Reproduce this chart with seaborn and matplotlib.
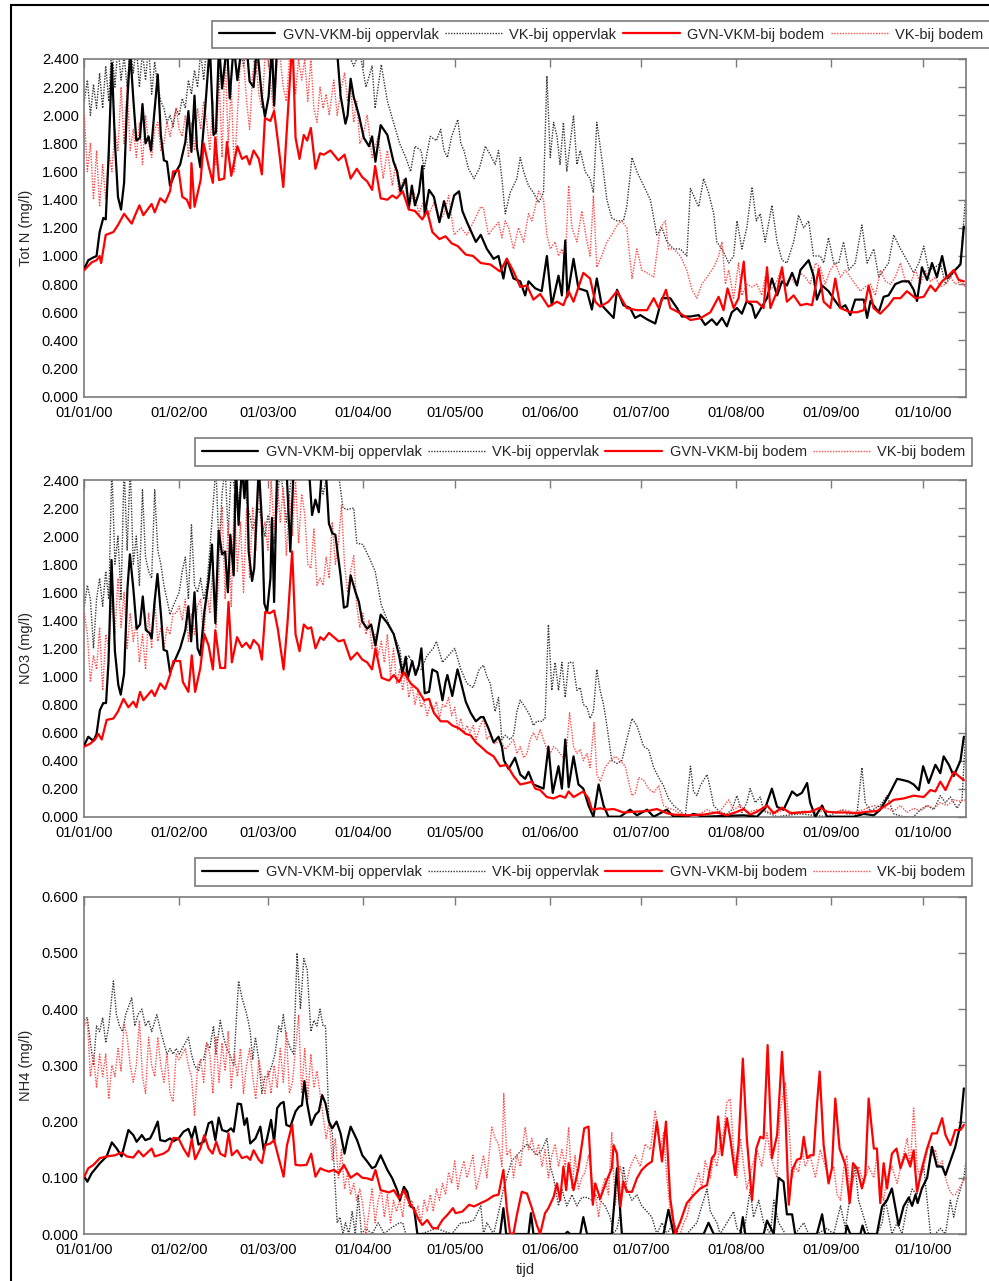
import numpy as np
import pandas as pd
import matplotlib
matplotlib.use("Agg")
import matplotlib.pyplot as plt
import matplotlib.dates as mdates
from matplotlib.ticker import FormatStrFormatter
from matplotlib.patches import Rectangle
import seaborn as sns

sns.set_style("white")
plt.rcParams["font.family"] = ["Liberation Sans", "DejaVu Sans"]
plt.rcParams["font.size"] = 10.5

START = pd.Timestamp("2000-01-01")

# Series: (day since 01/01/2000, concentration in mg/l)

# ---------------- Tot N ----------------
totn_gvn_opp = [(0,0.91),(1.3,0.97),(3,0.99),(4,1.00),(5,1.17),(6.2,1.27),(7,1.26),(7.9,1.69),(9,2.37),(10,1.81),(11,1.42),(12,1.33),(13,1.52),(13.9,2.05),(15,2.45),(16,2.12),(17,1.82),(18.2,1.84),(19,2.08),(20,1.80),(21,1.85),(21.8,1.75),(22.8,2.00),(24,2.29),(25,1.86),(26,1.68),(27,1.67),(28,1.50),(29.7,1.59),(31.3,1.65),(33,1.81),(34,2.03),(35,1.74),(36,2.14),(36.8,1.77),(37.9,1.63),(39.5,2.05),(41,2.50),(42.2,1.86),(43,1.88),(44,2.50),(45,2.19),(46.6,2.50),(47.5,2.12),(48.8,2.50),(50,2.25),(51.5,2.50),(53,2.50),(54,2.24),(55.3,2.20),(56.4,2.50),(58,2.13),(59,1.99),(60.2,2.13),(61.3,2.50),(62,2.07),(63,2.50),(70,2.60),(76,2.60),(82.6,2.45),(83.7,2.14),(85.3,1.94),(86,2.00),(87,2.26),(88,2.13),(89.7,2.00),(91.3,1.84),(93,1.78),(94,1.85),(95.1,1.67),(96.8,1.93),(99,1.86),(101,1.67),(102.2,1.60),(103.3,1.46),(105,1.55),(106,1.34),(107,1.50),(108,1.36),(109.3,1.45),(110.4,1.64),(111.2,1.29),(112.6,1.47),(114.2,1.42),(116,1.24),(117.5,1.39),(119,1.27),(120.8,1.43),(122.4,1.46),(123.5,1.32),(125,1.24),(127.9,1.10),(129.5,1.15),(131.5,1.05),(133.7,0.98),(135.3,1.00),(136.9,0.84),(138,0.98),(140.2,0.84),(142.4,0.82),(144,0.72),(145.1,0.82),(147.3,0.77),(149.4,0.75),(151.1,1.00),(152.7,0.65),(154.9,0.86),(156,0.72),(157.1,1.11),(157.8,0.71),(159.8,0.98),(161.4,0.77),(164.2,0.75),(165.8,0.62),(167.4,0.84),(169,0.65),(172.9,0.56),(174,0.76),(176.1,0.65),(178.3,0.63),(179.9,0.56),(181.6,0.58),(183.8,0.55),(186.5,0.52),(188.7,0.70),(191.4,0.70),(193.6,0.63),(195.2,0.57),(198,0.57),(200.7,0.58),(202.8,0.51),(205,0.55),(206.6,0.51),(208.3,0.56),(209.9,0.50),(211.5,0.60),(213.2,0.63),(214.8,0.59),(216.4,0.68),(218.1,0.65),(219.2,0.56),(220.8,0.62),(223,0.70),(224.6,0.84),(226.3,0.72),(227.9,0.82),(229.5,0.79),(231.2,0.88),(232.8,0.79),(233.9,0.90),(236.6,0.97),(238.2,0.86),(239.3,0.69),(241,0.79),(243.1,0.75),(245.3,0.68),(247,0.63),(248.6,0.65),(250.2,0.58),(251.8,0.69),(254.6,0.69),(255.7,0.56),(256.8,0.68),(259.5,0.60),(261.1,0.71),(262.7,0.72),(264.9,0.80),(267.1,0.82),(269.3,0.82),(270.9,0.76),(272,0.68),(273.6,0.92),(275.3,0.83),(276.9,0.95),(278.5,0.85),(280.2,1.00),(281.8,0.84),(284,0.89),(286.2,0.94),(287.3,1.21)]

totn_vk_opp = [(0,2.10),(1,2.25),(2,2.00),(3,2.22),(4,2.05),(5,2.30),(6,2.05),(7,2.35),(8,2.10),(9,2.50),(10,2.20),(11,2.50),(12,2.25),(13,2.42),(14,2.20),(15,2.50),(16,2.30),(17,2.50),(18,2.20),(19,2.45),(20,2.25),(21,2.50),(22,2.15),(23,2.38),(24,2.20),(25,2.10),(26,2.05),(27,1.95),(28,2.00),(29,1.92),(30,2.05),(31,2.00),(32,2.12),(33,2.05),(34,2.25),(35,2.15),(36,2.32),(37,2.20),(38,2.45),(39,2.25),(40,2.50),(41,2.35),(42,2.55),(44,2.40),(46,2.60),(48,2.45),(50,2.60),(52,2.35),(54,2.60),(56,2.30),(58,2.60),(60,2.45),(62,2.60),(66,2.60),(70,2.60),(75,2.60),(80,2.60),(85,2.50),(88,2.35),(90,2.45),(92,2.20),(94,2.35),(95,2.05),(97,2.36),(99,2.10),(101,1.95),(103,1.80),(105,1.70),(106.6,1.60),(108,1.78),(110,1.75),(111,1.62),(113,1.85),(115,1.82),(116.4,1.90),(117.5,1.75),(118.6,1.70),(120,1.85),(122,1.97),(123,1.80),(124,1.75),(125.5,1.62),(127.3,1.55),(129,1.62),(130.6,1.75),(131,1.78),(132.6,1.72),(134.2,1.65),(135.3,1.75),(136.4,1.55),(137.5,1.30),(139.1,1.45),(141.3,1.55),(142.4,1.70),(143.5,1.60),(145.1,1.50),(146.7,1.45),(148.4,1.38),(150,1.45),(151.1,2.28),(152.2,1.70),(153.3,1.95),(154.4,1.85),(155.4,1.65),(156.5,1.95),(157.6,1.60),(158.7,1.80),(159.8,2.00),(160.9,1.65),(162,1.75),(163.6,1.60),(165.2,1.55),(166.3,1.45),(167.4,1.95),(169,1.70),(170.7,1.40),(172.3,1.27),(174,1.25),(176.1,1.25),(177.2,1.35),(178.9,1.70),(180.5,1.60),(182.7,1.50),(184.9,1.40),(187,1.15),(188.7,1.20),(190.3,1.10),(192.5,1.05),(194.7,1.05),(196.8,1.00),(198,1.48),(199.6,1.40),(200.7,1.35),(202.3,1.55),(203.9,1.45),(205.6,1.30),(206.6,1.10),(208.3,1.05),(210.5,0.95),(212.1,1.00),(213.2,1.25),(214.8,1.05),(216.4,1.20),(218.1,1.49),(219.5,1.25),(220.8,1.30),(222.4,1.10),(224.6,1.36),(226.3,1.10),(227.9,0.97),(229.5,0.95),(231.7,1.10),(233.3,1.29),(235,1.20),(236.6,1.25),(238.2,1.00),(240.4,1.00),(241.5,0.95),(243.1,1.13),(244.8,0.95),(246.4,0.95),(248,1.10),(249.7,0.90),(251.8,0.95),(254,1.22),(255.7,0.95),(257.9,1.05),(259.5,0.85),(261.1,0.90),(262.7,0.95),(264.4,1.15),(266.6,1.05),(268.7,0.97),(270.9,0.88),(272.6,0.95),(274.2,1.07),(275.8,0.90),(278,0.92),(279.6,0.95),(281.3,0.80),(282.9,0.85),(284.5,0.90),(286.2,0.95),(287.8,1.40)]

totn_gvn_bodem = [(0,0.90),(2.4,0.955),(4,0.97),(5,1.00),(5.5,0.95),(7,1.15),(9.5,1.17),(11,1.22),(13,1.30),(14.4,1.26),(15.5,1.23),(16.6,1.29),(18,1.36),(19.3,1.29),(22,1.37),(23,1.31),(24.8,1.41),(26.4,1.38),(28,1.46),(29,1.60),(30.8,1.61),(32,1.42),(33.5,1.40),(34.6,1.34),(35,1.66),(36,1.35),(38,1.54),(39,1.80),(40.6,1.64),(42,1.52),(42.8,1.84),(44,1.54),(45.7,1.55),(46.6,1.81),(48,1.57),(50,1.78),(51.5,1.69),(53,1.71),(54,1.65),(55.3,1.75),(57,1.69),(58,1.58),(59,1.98),(60.8,1.96),(62,2.03),(63.5,1.77),(65,1.49),(66.8,2.12),(68,2.55),(69,1.84),(70.3,1.69),(71.7,1.86),(72.8,1.82),(74,1.91),(75.5,1.62),(77,1.73),(78.2,1.72),(80.4,1.75),(83,1.68),(85,1.72),(87,1.55),(89,1.62),(90.8,1.56),(92.4,1.53),(94,1.47),(95,1.64),(96.8,1.41),(99,1.40),(100.6,1.43),(102,1.41),(104,1.46),(106,1.33),(108,1.32),(110.4,1.26),(112,1.32),(113.7,1.17),(116,1.12),(118,1.14),(120,1.09),(122,1.07),(124.6,1.01),(127,1.00),(129.5,0.95),(132.6,0.94),(135.8,0.89),(138,0.98),(140.2,0.89),(142.4,0.78),(144.6,0.79),(146.7,0.69),(148.9,0.73),(151.6,0.64),(154.4,0.675),(156.5,0.65),(158.2,0.75),(159.8,0.675),(163,0.88),(165.2,0.84),(166.9,0.675),(168.5,0.64),(171.2,0.675),(174,0.75),(177.2,0.63),(180.5,0.615),(183.8,0.615),(186,0.70),(187.6,0.63),(190,0.76),(191.4,0.63),(194.1,0.60),(198,0.545),(201.2,0.557),(204.5,0.60),(207.2,0.71),(208.8,0.615),(210.1,0.77),(212.1,0.63),(213.7,0.70),(215.4,0.96),(216.4,0.675),(219.7,0.675),(221.9,0.63),(223,0.92),(224.1,0.63),(226.3,0.75),(227.9,0.92),(229.5,0.675),(231.7,0.72),(233.9,0.65),(236,0.66),(237.7,0.65),(239.9,0.91),(241.5,0.675),(243.7,0.63),(245.3,0.84),(247,0.63),(250.2,0.60),(252.4,0.60),(254.6,0.615),(256.2,0.79),(257.8,0.63),(260,0.59),(262.7,0.65),(264.4,0.70),(266.6,0.70),(268.7,0.75),(271.5,0.70),(274.2,0.71),(276.4,0.79),(278,0.75),(280.2,0.82),(281.8,0.85),(284,0.90),(285.6,0.83),(287.3,0.82)]

totn_vk_bodem = [(0,2.00),(1,1.60),(2,1.80),(3,1.40),(4,1.75),(5,1.35),(6,1.65),(7,1.40),(8,1.75),(9,1.60),(10,1.90),(11,1.75),(12,2.20),(13,1.80),(14,2.20),(15,1.75),(16,1.90),(17,1.70),(18,1.95),(19,1.65),(20,2.00),(21,1.80),(22,1.70),(23,1.90),(24,1.95),(25,1.75),(26,1.80),(27,1.95),(28,1.85),(29,1.95),(30,2.05),(31,1.90),(32,1.85),(33,2.00),(34,1.70),(35,1.95),(36,1.75),(37,2.05),(38,1.90),(39,2.10),(40,1.95),(41,1.75),(42,2.10),(43,1.65),(44,2.30),(45,1.70),(46,2.45),(47,1.80),(48,2.20),(49,1.60),(50,2.00),(51,2.40),(52,2.40),(53,2.10),(54,1.90),(55,2.30),(56,2.40),(57,2.15),(58,2.05),(59,2.40),(60,2.40),(61,2.20),(62,2.00),(63,2.40),(64,2.40),(65,2.20),(66,2.10),(67,2.40),(68,2.40),(69,2.15),(70,2.40),(71,2.25),(72,2.40),(73,2.10),(74,2.40),(75,2.05),(76,1.95),(77,2.20),(78,2.05),(79,2.15),(80,2.00),(81.5,2.25),(82.6,2.00),(84,2.20),(85,2.30),(86,2.10),(87,2.20),(88,1.95),(89,2.10),(90,1.80),(91,1.85),(92.4,2.00),(94,1.70),(96,1.85),(97.6,1.55),(99,1.75),(100.6,1.50),(101.7,1.65),(102.8,1.45),(104.4,1.55),(106,1.35),(107.7,1.45),(109.3,1.30),(111,1.40),(112.6,1.30),(114.2,1.38),(115.9,1.25),(117.5,1.30),(119,1.43),(120.8,1.15),(123,1.20),(125,1.15),(127.3,1.25),(129.5,1.35),(130.4,1.34),(132,1.15),(133.7,1.20),(135.3,1.24),(136.4,1.13),(137.5,1.25),(138.6,1.20),(140.2,1.05),(141.8,1.20),(143.5,1.10),(145.1,1.30),(146.2,1.25),(147.3,1.35),(148.4,1.46),(150,1.40),(151.1,1.15),(152.2,1.05),(153.8,1.10),(154.9,1.00),(156,1.05),(157.1,0.95),(157.8,1.29),(158.2,1.50),(159.3,1.20),(160.9,1.10),(162.5,1.32),(164.2,1.10),(165.2,1.00),(166.3,1.43),(167.4,0.92),(169,1.00),(170.7,1.10),(172.3,1.15),(174,1.22),(175.6,1.25),(177.2,1.20),(178.9,0.84),(180.5,1.05),(182.1,0.90),(183.8,0.88),(186,0.85),(188.1,1.20),(189.8,1.25),(190.8,1.05),(192.5,1.05),(194.7,1.00),(196.8,0.90),(198.5,0.76),(200.1,0.70),(201.7,0.80),(203.4,0.85),(205.6,0.92),(207.2,1.00),(208.3,1.10),(209.4,0.80),(210.5,0.90),(212.1,0.70),(213.7,0.95),(214.8,0.72),(216.4,0.80),(218.1,0.78),(219.7,0.80),(221.3,0.72),(222.4,0.85),(224.1,0.76),(225.7,0.80),(227.3,0.88),(229,0.80),(230.6,0.85),(232.2,0.80),(233.9,0.88),(235.5,0.85),(237.1,0.80),(238.8,0.95),(240.4,0.92),(242,0.80),(243.7,0.90),(245.3,0.95),(247,0.85),(248.6,0.90),(250.2,0.85),(251.8,0.80),(253.5,0.75),(255.1,0.78),(256.8,0.80),(258.4,0.72),(260,0.90),(261.7,0.82),(263.3,0.80),(264.9,0.85),(266.6,0.95),(268.2,0.82),(269.8,0.80),(271.5,0.90),(273.1,0.80),(274.7,0.90),(276.4,0.82),(278,0.85),(279.6,0.78),(281.3,0.80),(282.9,0.85),(284.5,0.80),(286.2,0.82),(287.8,0.78)]

# ---------------- NO3 ----------------
no3_gvn_opp = [(0,0.51),(1.3,0.57),(3,0.54),(4,0.59),(5.1,0.76),(6.2,0.81),(7.1,0.81),(7.9,1.10),(8.9,1.83),(10,1.18),(11.1,0.94),(11.9,0.87),(13,1.02),(14.1,1.63),(14.9,1.87),(16,1.63),(17.1,1.34),(18.2,1.37),(19.1,1.57),(20.1,1.33),(21.3,1.31),(22,1.27),(22.9,1.52),(23.9,1.73),(25,1.45),(25.9,1.19),(27,1.18),(28,1.03),(29.7,1.12),(31.3,1.20),(33,1.33),(34,1.50),(34.9,1.25),(36,1.60),(37,1.20),(37.9,1.15),(39.2,1.46),(40.6,1.68),(41.7,1.94),(42.8,1.38),(43.9,2.04),(45,1.87),(46,1.89),(46.9,1.60),(47.7,2.01),(48.8,1.72),(49.5,2.50),(50.4,2.08),(51.5,2.50),(52.3,2.27),(53.1,2.50),(53.7,1.89),(54.8,1.68),(55.5,1.77),(57,2.50),(58,2.11),(58.8,1.52),(59.7,1.46),(60.8,1.70),(61.3,2.13),(62,1.53),(63,2.50),(66,2.50),(67.3,1.89),(68.4,2.50),(73,2.60),(74.4,2.15),(75.5,2.26),(76.6,2.17),(77.7,2.50),(78.8,2.50),(79.9,2.09),(81,2.02),(82,2.01),(83.7,1.72),(84.8,1.49),(85.9,1.50),(87,1.72),(88.6,1.60),(89.7,1.53),(90.8,1.39),(92.4,1.34),(93.7,1.37),(95.1,1.22),(96.8,1.44),(99,1.38),(101.1,1.30),(102.8,1.15),(103.9,1.02),(105,1.14),(105.7,0.99),(107.1,1.11),(108.2,1.01),(109.3,1.08),(110.1,1.20),(111.2,0.88),(112.6,0.89),(113.7,1.05),(115.3,1.03),(117,0.83),(118,0.96),(118.6,1.01),(120.2,0.86),(121.9,1.05),(123,0.96),(124.6,0.82),(126.2,0.74),(127.9,0.68),(129.5,0.71),(130.4,0.71),(132,0.63),(133.7,0.53),(135.3,0.57),(136.4,0.50),(137.1,0.40),(138.6,0.34),(140.7,0.42),(142.4,0.30),(144,0.27),(145.1,0.32),(146.7,0.23),(148.9,0.21),(150,0.20),(151.6,0.50),(153,0.17),(154.9,0.36),(156,0.20),(157.1,0.55),(158.2,0.21),(159.8,0.43),(161.4,0.23),(163,0.20),(164.7,0.08),(166.3,0.00),(168,0.23),(169.6,0.08),(171.2,0.00),(175,0.00),(178.3,0.05),(180.5,0.01),(183.8,0.05),(186,0.00),(190.3,0.05),(192.5,0.00),(196.8,0.00),(199,0.02),(202.3,0.00),(215.4,0.01),(219.7,0.00),(222.4,0.06),(224.6,0.20),(226.3,0.07),(228.4,0.05),(231.2,0.18),(232.8,0.15),(234.4,0.17),(236.1,0.24),(237.1,0.10),(238.8,0.00),(241,0.08),(242.6,0.00),(251.3,0.00),(254.6,0.02),(257.9,0.01),(260,0.05),(262.7,0.15),(265.5,0.27),(267.6,0.26),(269.3,0.25),(270.9,0.23),(272.6,0.19),(274,0.36),(275.8,0.24),(278,0.37),(279.6,0.31),(280.7,0.43),(282.4,0.37),(284,0.29),(286.2,0.40),(287.3,0.57)]

no3_vk_opp = [(0,1.50),(1,1.65),(2,1.55),(3,1.20),(4,1.55),(5,1.70),(6,1.50),(7,1.75),(8,1.55),(9,2.50),(10,1.80),(11,2.00),(12,1.55),(13,2.50),(14,1.90),(15,2.50),(16,1.80),(17,2.00),(18,1.65),(19,2.33),(20,1.85),(21,1.75),(22,1.70),(23,2.33),(24,1.90),(25,1.80),(26,1.65),(27,1.55),(28,1.44),(29,1.50),(30,1.55),(31,1.60),(32,1.75),(33,1.85),(34,1.55),(35,2.08),(36,1.65),(37,1.60),(38,1.70),(39,1.55),(40,1.65),(41,1.90),(42,2.20),(43,2.50),(44,1.90),(45,2.30),(46,2.50),(47,2.00),(48,2.50),(50,2.20),(52,2.50),(53,2.25),(55,2.05),(57,2.20),(59,2.00),(60,2.15),(62,1.95),(64,2.50),(66,2.10),(68,2.50),(72,2.60),(76,2.50),(78,2.30),(80,2.50),(83,2.45),(84.5,2.20),(86,2.19),(88,2.20),(89,1.95),(91,1.94),(93,1.85),(95,1.75),(97,1.51),(99,1.40),(101,1.30),(103,1.20),(104,1.05),(106,1.15),(108,1.05),(110,1.05),(112,1.15),(114,1.20),(115,1.25),(117,1.10),(119,1.15),(121,1.20),(123,1.05),(125,0.95),(127,0.92),(129,1.05),(130.4,1.08),(131.5,1.00),(132.6,0.95),(134.2,0.75),(135.3,0.85),(136.4,0.55),(137.5,0.58),(139.1,0.55),(140.2,0.58),(141.3,0.75),(142.4,0.83),(144,0.78),(145.6,0.72),(146.7,0.65),(147.8,0.68),(149.4,0.68),(150.5,0.70),(151.6,1.37),(152.7,0.90),(153.8,1.10),(154.9,0.90),(156,1.10),(157.1,0.85),(158.2,1.10),(159.6,1.10),(160.9,0.90),(162,0.92),(163,0.80),(164.2,0.78),(165.2,0.70),(166.3,0.75),(167.4,1.05),(168.5,0.90),(169.6,0.80),(170.7,0.65),(172.3,0.40),(174,0.38),(175.6,0.40),(177.2,0.55),(178.9,0.70),(180.5,0.65),(182.7,0.50),(184.3,0.48),(186,0.35),(187.6,0.28),(189.2,0.22),(190.8,0.13),(192.5,0.08),(194.7,0.04),(196.3,0.00),(198,0.36),(199,0.18),(200.1,0.15),(201.2,0.22),(203.4,0.30),(204.5,0.20),(205.6,0.08),(207.7,0.03),(209.9,0.02),(211.5,0.05),(213.2,0.15),(214.8,0.03),(216.4,0.10),(217.5,0.20),(219.2,0.10),(220.8,0.14),(221.9,0.04),(224.1,0.02),(226.3,0.00),(229.5,0.01),(233.9,0.02),(238.2,0.01),(242.6,0.00),(247.5,0.05),(249.1,0.02),(252.4,0.02),(254,0.35),(255.1,0.10),(256.8,0.04),(260,0.08),(262.2,0.15),(264.4,0.02),(267.6,0.00),(270.9,0.00),(273.1,0.05),(275.3,0.08),(277.5,0.05),(279.6,0.15),(281.3,0.10),(282.9,0.14),(285.1,0.06),(286.7,0.12),(288,0.65)]

no3_gvn_bodem = [(0,0.50),(1.9,0.52),(3.5,0.55),(4.6,0.59),(5.7,0.55),(7.3,0.69),(9.5,0.70),(11,0.75),(12.8,0.84),(14.4,0.78),(16,0.82),(17,0.78),(18.2,0.89),(19.3,0.83),(22,0.90),(23,0.86),(24.8,0.95),(26.4,0.91),(28,1.01),(29.1,1.11),(31.3,1.11),(32.2,0.96),(34,0.89),(35.1,1.15),(36.2,0.89),(37.9,1.06),(39.2,1.30),(40.6,1.22),(42,1.05),(42.8,1.33),(44.4,1.06),(46,1.06),(47.1,1.53),(48.2,1.10),(49.9,1.28),(51.5,1.21),(52.9,1.24),(54.2,1.20),(55.3,1.26),(57,1.22),(58,1.12),(59.1,1.46),(60.6,1.45),(62,1.47),(63.2,1.34),(65.1,1.05),(66.4,1.39),(67.9,1.89),(69,1.30),(70.3,1.18),(71.7,1.37),(73,1.34),(74.1,1.35),(75.5,1.20),(77.1,1.28),(78.2,1.26),(79.9,1.31),(81.5,1.28),(83.1,1.25),(84.8,1.26),(87,1.12),(89.1,1.17),(90.8,1.12),(92.4,1.10),(94,1.05),(95.1,1.20),(97.1,0.99),(99.5,0.97),(101.1,1.01),(102.8,0.96),(104.4,1.03),(106.6,0.95),(108.8,0.91),(111,0.83),(112.6,0.84),(114.2,0.74),(116.4,0.68),(118.6,0.68),(120.2,0.65),(122.4,0.63),(124.6,0.59),(126.2,0.58),(127.9,0.53),(129.5,0.50),(131.5,0.46),(133.7,0.43),(135.8,0.36),(138,0.37),(140.2,0.29),(142.4,0.23),(144.6,0.24),(146.2,0.25),(147.3,0.20),(148.9,0.19),(151.1,0.14),(153.3,0.13),(155.4,0.15),(157.1,0.135),(158.2,0.18),(159.8,0.14),(163,0.18),(164.7,0.13),(165.8,0.05),(168.5,0.06),(170.7,0.05),(172.9,0.055),(176.1,0.03),(179.4,0.035),(183.8,0.04),(187,0.055),(190.3,0.025),(192.5,0.015),(196.8,0.01),(202.3,0.015),(206.6,0.03),(209.9,0.01),(213.2,0.035),(215.4,0.055),(217.5,0.015),(219.7,0.035),(223,0.08),(225.2,0.025),(227.9,0.065),(230.6,0.025),(233.9,0.03),(237.1,0.035),(240.4,0.065),(242.6,0.035),(245.9,0.03),(249.1,0.03),(252.4,0.025),(255.7,0.035),(258.9,0.04),(261.1,0.07),(264.4,0.12),(267.6,0.13),(270.9,0.15),(274.2,0.14),(276.4,0.19),(278,0.18),(279.6,0.25),(281.3,0.19),(284,0.32),(285.6,0.29),(287.3,0.26)]

no3_vk_bodem = [(0,1.45),(1,1.30),(2,0.96),(3,1.15),(4,1.05),(5,1.35),(6,0.90),(7,1.30),(8,1.20),(9,1.55),(10,1.30),(11,1.70),(12,1.35),(13,1.60),(14,1.20),(15,1.45),(16,1.25),(17,1.40),(18,1.10),(19,1.30),(20,1.05),(21,1.45),(22,1.20),(23,1.55),(24,1.25),(25,1.35),(26,1.20),(27,1.35),(28,1.30),(29,1.45),(30,1.45),(31,1.50),(32,1.40),(33,1.55),(34,1.25),(35,1.45),(36,1.30),(37,1.50),(38,1.55),(39,1.25),(40,1.60),(41,1.45),(42,1.80),(43,1.35),(44,1.75),(45,2.21),(46,1.55),(47,2.10),(48,1.50),(49,2.30),(50,1.75),(51,2.10),(52,1.60),(53,2.20),(54,1.70),(55,2.20),(56,1.90),(57,2.40),(58,2.00),(59,2.10),(60,1.90),(61,2.40),(62,2.05),(63,2.40),(64,2.10),(65,2.35),(66,1.86),(67,2.30),(68,2.00),(69,2.40),(70,1.95),(71,2.30),(72,2.16),(73,1.80),(74,1.77),(75,2.05),(76,1.65),(77,1.70),(78,1.65),(79,1.85),(80,1.70),(81,2.10),(82,1.80),(83,1.95),(84,2.22),(85,1.80),(86,1.60),(87,1.75),(88,1.86),(89,1.50),(90,1.35),(91,1.45),(92,1.30),(93,1.40),(94,1.20),(95,1.30),(96,1.15),(97,1.25),(98,1.10),(99,1.30),(100,1.00),(101,1.20),(102,0.95),(103,1.05),(104,0.90),(105,1.05),(106,0.85),(107,0.95),(108,0.80),(109,0.90),(110,0.78),(111,0.82),(112,0.72),(113,0.80),(114,0.75),(115,0.82),(116,0.70),(117,0.80),(118,0.78),(119,0.85),(120,0.72),(121,0.78),(122,0.62),(123,0.70),(124,0.60),(125,0.65),(126,0.60),(127,0.65),(128,0.55),(129.3,0.65),(130.4,0.70),(131.5,0.55),(132.6,0.58),(134.2,0.52),(135.8,0.55),(137.5,0.48),(139.1,0.52),(140.2,0.55),(141.3,0.45),(142.4,0.50),(143.5,0.42),(144.6,0.45),(145.6,0.55),(146.7,0.60),(147.8,0.55),(148.9,0.62),(150,0.55),(151.1,0.48),(152.2,0.45),(153.3,0.50),(154.4,0.48),(155.4,0.45),(156.5,0.42),(157.6,0.50),(158.5,0.74),(159.8,0.50),(160.9,0.45),(162,0.48),(163,0.40),(164.2,0.45),(165.2,0.35),(166.5,0.67),(167.4,0.30),(168.5,0.25),(170.1,0.35),(171.8,0.40),(173.4,0.43),(175,0.40),(176.7,0.36),(177.8,0.25),(178.9,0.15),(180,0.17),(181.1,0.28),(182.7,0.26),(184.3,0.20),(186,0.17),(187.6,0.22),(189.2,0.08),(190.8,0.06),(192.5,0.05),(194.7,0.02),(198,0.01),(201.2,0.02),(203.4,0.05),(205.6,0.03),(207.7,0.04),(210.5,0.12),(212.1,0.05),(214.3,0.08),(216.4,0.03),(219.7,0.05),(223,0.04),(225.2,0.02),(228.4,0.05),(231.7,0.03),(235,0.04),(238.2,0.03),(241.5,0.04),(244.8,0.03),(248,0.05),(251.3,0.03),(254.6,0.05),(257.9,0.08),(260,0.07),(262.2,0.06),(264.4,0.04),(266.6,0.08),(268.7,0.03),(270.9,0.06),(273.1,0.04),(275.3,0.08),(277.5,0.06),(279.6,0.10),(281.8,0.08),(284,0.12),(286.2,0.11),(287.8,0.12)]

# ---------------- NH4 ----------------
nh4_gvn_opp = [(0,0.102),(1,0.093),(2.4,0.108),(5.1,0.126),(7.3,0.138),(9,0.163),(10.6,0.152),(12.2,0.138),(14.4,0.185),(16,0.176),(17.1,0.164),(18.8,0.176),(19.9,0.167),(21.5,0.170),(22.6,0.182),(24,0.200),(24.8,0.167),(26.4,0.165),(28,0.170),(29.1,0.165),(30.8,0.170),(32.4,0.182),(34,0.187),(35.1,0.170),(36.2,0.191),(37.3,0.159),(39,0.164),(40.6,0.197),(41.7,0.200),(42.8,0.167),(43.9,0.207),(45,0.185),(46.6,0.182),(47.9,0.188),(48.8,0.182),(50.1,0.232),(51.2,0.231),(52.3,0.194),(53.1,0.206),(54.2,0.161),(55.9,0.170),(57.5,0.191),(58.6,0.149),(59.7,0.170),(61,0.203),(62,0.164),(63,0.224),(64.1,0.232),(65.1,0.235),(66,0.194),(67.3,0.191),(69,0.218),(70.1,0.226),(71.1,0.229),(71.9,0.272),(72.8,0.232),(74.1,0.194),(75.5,0.212),(76.6,0.218),(77.7,0.247),(78.8,0.232),(79.9,0.200),(81,0.188),(82.4,0.200),(83.7,0.179),(85,0.143),(85.9,0.167),(87,0.191),(89.1,0.167),(90.8,0.140),(92.4,0.129),(94,0.117),(95.1,0.120),(96.8,0.140),(99,0.114),(100.6,0.099),(102.2,0.078),(103.1,0.060),(104.4,0.084),(105.5,0.075),(106.6,0.049),(107.7,0.046),(108.8,0.000),(135.8,0.000),(136.9,0.046),(137.8,0.000),(145.1,0.000),(145.9,0.037),(146.7,0.000),(157.1,0.000),(157.8,0.004),(158.7,0.000),(162,0.000),(163,0.030),(164.2,0.000),(172.3,0.000),(174,0.117),(175.6,0.000),(189.2,0.000),(190.8,0.043),(192.5,0.000),(202.3,0.000),(203.9,0.020),(205.6,0.000),(214.3,0.000),(215.1,0.030),(215.9,0.000),(221.9,0.000),(223,0.024),(225.2,0.000),(226.8,0.100),(228.4,0.093),(229.5,0.035),(231.2,0.035),(232.2,0.000),(239.3,0.000),(241,0.035),(242,0.000),(248.6,0.000),(249.1,0.015),(250.2,0.000),(253.5,0.000),(254.2,0.015),(255.1,0.000),(258.9,0.000),(260.6,0.049),(262.2,0.060),(263.8,0.081),(266,0.015),(267.6,0.049),(269.3,0.065),(270.4,0.050),(271.5,0.070),(272.2,0.055),(273.6,0.081),(275.3,0.100),(276.9,0.155),(278.5,0.120),(280.2,0.120),(281.3,0.105),(282.9,0.130),(284.5,0.155),(286.2,0.195),(287.3,0.259)]

nh4_vk_opp = [(0,0.38),(1,0.385),(2,0.34),(3,0.30),(4,0.37),(5,0.36),(6,0.385),(7,0.34),(8,0.37),(9.5,0.45),(10.5,0.39),(11.5,0.37),(12.5,0.36),(13.5,0.39),(15.5,0.42),(16.5,0.37),(17.5,0.39),(18.8,0.40),(20,0.37),(21,0.38),(22,0.36),(23.7,0.39),(25,0.36),(26,0.34),(27,0.32),(28,0.33),(29,0.32),(30,0.33),(31,0.32),(32,0.33),(33,0.34),(34,0.35),(35,0.32),(36,0.30),(37.3,0.29),(38,0.31),(39,0.31),(40,0.34),(41,0.33),(42.2,0.37),(43,0.32),(44.4,0.38),(45.5,0.35),(46.5,0.33),(47.5,0.32),(48.8,0.30),(50.4,0.45),(51.5,0.42),(52.6,0.40),(53.5,0.38),(54.2,0.36),(55,0.31),(55.9,0.35),(57,0.31),(58,0.25),(59,0.28),(60,0.28),(61.3,0.30),(62.3,0.32),(63.5,0.37),(64.3,0.36),(65,0.39),(66,0.35),(67.3,0.33),(68.4,0.32),(69.5,0.50),(70.6,0.40),(71.7,0.49),(72.8,0.47),(74,0.36),(75,0.38),(76,0.37),(77,0.40),(78,0.37),(78.8,0.37),(79.9,0.20),(81,0.18),(82.6,0.02),(83.5,0.03),(84.5,0.00),(85.3,0.02),(86.4,0.00),(87.5,0.04),(88.5,0.00),(89.5,0.07),(90.5,0.00),(92,0.01),(94,0.00),(96,0.02),(98,0.00),(100,0.01),(103,0.02),(104,0.02),(105,0.00),(110,0.00),(115,0.01),(120,0.00),(123,0.02),(125,0.02),(127.3,0.025),(129.5,0.05),(130.4,0.00),(131.5,0.02),(133.7,0.00),(135.8,0.05),(136.9,0.08),(138,0.10),(139.6,0.13),(141.3,0.14),(142.9,0.15),(144.6,0.16),(146.2,0.15),(147.8,0.14),(149.5,0.15),(151.1,0.17),(152.2,0.12),(153.3,0.10),(154.9,0.05),(156,0.08),(157.6,0.05),(159.3,0.07),(160.9,0.05),(162.5,0.065),(164.2,0.065),(165.8,0.06),(166.9,0.07),(168.5,0.06),(170.1,0.05),(171.8,0.03),(172.9,0.00),(174,0.01),(175.1,0.04),(176.1,0.12),(177.2,0.08),(178.9,0.06),(180.5,0.07),(182.1,0.05),(183.8,0.04),(185.4,0.03),(187,0.00),(188.7,0.02),(190.3,0.00),(192.5,0.02),(194.1,0.00),(196.8,0.00),(200.1,0.02),(201.7,0.05),(203.4,0.08),(204.5,0.04),(206.6,0.02),(207.7,0.00),(209.9,0.02),(212.1,0.04),(213.2,0.01),(215.4,0.00),(217.5,0.08),(218.6,0.03),(220.3,0.06),(221.9,0.02),(224.1,0.00),(225.2,0.06),(226.8,0.02),(229,0.00),(232.2,0.00),(235,0.02),(236.6,0.00),(239.3,0.00),(242.6,0.01),(244.8,0.00),(247,0.05),(248.6,0.01),(250.2,0.07),(251.8,0.12),(252.9,0.06),(254.6,0.03),(256.2,0.00),(258.9,0.00),(260.6,0.02),(261.7,0.06),(262.8,0.03),(263.8,0.00),(265.5,0.02),(267.1,0.00),(268.8,0.05),(270.4,0.08),(272,0.07),(273.1,0.10),(274.2,0.12),(275.3,0.06),(276.4,0.00),(278,0.00),(279.6,0.01),(281.3,0.00),(282.9,0.06),(284,0.03),(285.1,0.06),(286.2,0.08),(287.3,0.10),(288,0.13)]

nh4_gvn_bodem = [(0,0.102),(1.3,0.117),(3,0.123),(5.1,0.135),(7.3,0.138),(10,0.140),(12.2,0.145),(13.9,0.138),(16,0.136),(17.7,0.148),(19.3,0.138),(22,0.152),(23,0.138),(25.9,0.143),(27.5,0.149),(29.1,0.171),(30.8,0.170),(32.4,0.152),(34,0.138),(35.1,0.169),(36.2,0.133),(37.9,0.152),(39.2,0.176),(40.6,0.152),(41.9,0.143),(43.1,0.164),(44.4,0.143),(46,0.138),(47.1,0.179),(48.2,0.140),(49.9,0.149),(51.5,0.135),(53.1,0.138),(54.2,0.132),(55.3,0.149),(57,0.132),(58,0.126),(59.1,0.158),(60.8,0.161),(62,0.167),(63.5,0.135),(65.1,0.102),(66.2,0.158),(67.9,0.195),(69,0.123),(70.6,0.122),(72.6,0.123),(74.1,0.143),(75.5,0.102),(77.1,0.117),(78.2,0.114),(79.9,0.111),(81.5,0.114),(83.1,0.108),(84.8,0.123),(87,0.100),(89.1,0.108),(90.8,0.100),(92.4,0.099),(94,0.096),(95.1,0.114),(96.8,0.078),(99.5,0.074),(101.1,0.078),(102.8,0.063),(104.4,0.078),(106,0.058),(107.7,0.043),(109.3,0.025),(110.4,0.016),(112,0.025),(113.7,0.011),(115.3,0.010),(117,0.025),(118.6,0.034),(120.4,0.046),(121.3,0.037),(123.5,0.040),(125.7,0.052),(127.3,0.049),(129.5,0.055),(131.5,0.060),(133.7,0.068),(135.3,0.070),(136.9,0.114),(138,0.046),(139.1,0.000),(140.2,0.001),(141.3,0.034),(142.9,0.075),(144.6,0.072),(146.2,0.046),(147.8,0.016),(148.9,0.000),(150.5,0.037),(151.6,0.046),(153.3,0.066),(154.4,0.090),(155.4,0.060),(156.5,0.120),(157.4,0.078),(158.2,0.126),(159.8,0.078),(161.4,0.117),(163.3,0.188),(164.7,0.191),(166.1,0.052),(166.9,0.090),(168.5,0.063),(170.7,0.096),(172.3,0.117),(172.9,0.158),(174,0.143),(175.1,0.049),(176.1,0.093),(177.2,0.075),(178.9,0.075),(180.5,0.099),(182.1,0.114),(183.8,0.123),(185.4,0.129),(187,0.200),(188.7,0.129),(190,0.200),(191.4,0.063),(193,0.000),(194.7,0.022),(196.8,0.055),(199,0.069),(201.2,0.081),(203.4,0.087),(205,0.135),(206.1,0.143),(207,0.209),(208.3,0.140),(209.9,0.206),(211,0.170),(212.6,0.105),(213.7,0.158),(215.1,0.312),(216.4,0.170),(218.1,0.060),(219.5,0.152),(220.8,0.173),(221.9,0.170),(223.2,0.336),(224.6,0.135),(226.3,0.176),(227.9,0.324),(229,0.215),(230.1,0.052),(231.2,0.114),(232.8,0.132),(234.1,0.135),(235,0.173),(236.1,0.135),(237.1,0.140),(238.2,0.140),(239.3,0.229),(240.2,0.289),(241.5,0.158),(243.1,0.090),(244.2,0.117),(245.3,0.241),(246.7,0.152),(248.6,0.123),(250,0.055),(251.1,0.126),(252.4,0.117),(254,0.081),(255.1,0.105),(256.2,0.241),(257.9,0.152),(258.9,0.152),(260,0.055),(261.1,0.126),(262.2,0.081),(263.8,0.143),(265.3,0.152),(266.6,0.117),(268.2,0.143),(269.8,0.120),(270.9,0.149),(272,0.075),(273.6,0.117),(275.3,0.152),(276.9,0.179),(278.5,0.179),(280.2,0.206),(281.3,0.176),(282.9,0.158),(284.5,0.185),(286.2,0.185),(287.3,0.194)]

nh4_vk_bodem = [(0,0.37),(1,0.38),(2,0.28),(3,0.32),(4,0.26),(5,0.32),(6,0.28),(7,0.32),(8,0.24),(9,0.30),(10,0.28),(11,0.33),(12,0.29),(13,0.375),(14,0.35),(15,0.30),(16,0.27),(17,0.30),(18,0.38),(19,0.28),(20,0.25),(21,0.35),(22,0.30),(23,0.28),(24,0.35),(25,0.30),(26,0.27),(27,0.32),(28,0.25),(29,0.235),(30,0.32),(31,0.31),(32,0.32),(33,0.33),(34,0.30),(35,0.28),(36,0.21),(37,0.30),(38,0.31),(39,0.27),(40,0.34),(41,0.32),(42,0.25),(43,0.35),(44,0.27),(45,0.34),(46,0.29),(47,0.36),(48,0.26),(49,0.32),(50,0.28),(51,0.33),(52,0.25),(53,0.30),(54,0.33),(55,0.28),(56,0.24),(57,0.31),(58,0.28),(59,0.25),(60,0.29),(61,0.25),(62,0.30),(63,0.26),(64,0.33),(65,0.27),(66,0.36),(67,0.25),(68,0.27),(69,0.33),(70,0.39),(71,0.25),(72,0.33),(73,0.24),(74,0.32),(75,0.26),(76,0.29),(77,0.25),(78,0.21),(79,0.17),(80,0.20),(81,0.13),(82,0.17),(83,0.10),(84,0.15),(85,0.08),(86,0.11),(87,0.07),(88,0.09),(89,0.06),(90,0.08),(91,0.05),(92,0.00),(93,0.04),(94,0.08),(95,0.02),(96,0.06),(97,0.08),(98,0.03),(99,0.07),(100,0.02),(101,0.06),(102,0.04),(103,0.06),(104,0.03),(105,0.08),(106,0.05),(107,0.06),(108,0.03),(109,0.05),(110,0.02),(111,0.06),(112,0.04),(113,0.07),(114,0.04),(115,0.08),(116,0.06),(117,0.09),(118,0.07),(119,0.11),(120,0.09),(121,0.13),(122,0.08),(123,0.11),(124,0.13),(125,0.10),(126,0.12),(127,0.14),(128,0.08),(129,0.10),(130.4,0.14),(131.5,0.10),(133.1,0.19),(134.2,0.17),(135.3,0.16),(136.4,0.12),(137,0.25),(138,0.14),(139.1,0.15),(140.2,0.10),(141.3,0.14),(142.4,0.12),(144,0.19),(145.1,0.15),(146.2,0.17),(147.3,0.14),(148.4,0.16),(149.5,0.12),(150.5,0.15),(151.6,0.10),(152.7,0.14),(153.8,0.16),(154.9,0.12),(156,0.15),(157.1,0.12),(158.2,0.19),(159.3,0.08),(160.3,0.14),(161.4,0.08),(162.5,0.10),(163.6,0.11),(164.7,0.14),(165.8,0.10),(166.9,0.07),(168,0.03),(169.1,0.08),(170.1,0.10),(171.2,0.07),(172.3,0.18),(173.4,0.05),(175,0.12),(176.7,0.08),(178.3,0.12),(180,0.14),(181.6,0.12),(183.2,0.16),(184.9,0.15),(186.5,0.22),(188.1,0.15),(189.2,0.18),(190.3,0.10),(191.4,0.04),(192.5,0.02),(193.6,0.00),(194.7,0.00),(195.8,0.02),(196.8,0.03),(198,0.06),(199,0.08),(200.7,0.11),(201.7,0.08),(202.8,0.13),(204.5,0.10),(205.6,0.14),(206.6,0.12),(207.7,0.16),(208.8,0.18),(209.9,0.235),(211,0.24),(212.1,0.15),(213.2,0.10),(214.3,0.17),(215.4,0.12),(216.4,0.08),(218.1,0.12),(219.7,0.15),(221.3,0.12),(223,0.18),(224.1,0.14),(225.2,0.12),(226.3,0.10),(227.3,0.22),(229,0.27),(230.1,0.20),(231.2,0.10),(232.2,0.12),(233.3,0.11),(234.4,0.15),(235.5,0.12),(237.1,0.14),(238.8,0.10),(240.4,0.15),(242,0.12),(243.1,0.10),(244.8,0.12),(245.9,0.07),(247,0.06),(248.1,0.12),(249.1,0.14),(250.2,0.06),(251.3,0.10),(253,0.12),(254.6,0.09),(256.2,0.12),(257.9,0.10),(258.9,0.14),(260,0.08),(261.1,0.06),(262.2,0.10),(263.8,0.12),(265.5,0.09),(267.1,0.13),(268.8,0.17),(269.8,0.12),(270.9,0.224),(272,0.12),(273.1,0.10),(274.7,0.13),(275.8,0.16),(276.9,0.14),(278,0.15),(279.1,0.12),(280.2,0.13),(281.3,0.10),(282.4,0.08),(283.5,0.07),(284.5,0.07),(285.6,0.08),(286.7,0.09),(287.8,0.10)]

series_labels = ["GVN-VKM-bij oppervlak", "VK-bij oppervlak", "GVN-VKM-bij bodem", "VK-bij bodem"]
panel_titles = ["Tot N (mg/l)", "NO3 (mg/l)", "NH4 (mg/l)"]
panel_data = [
    [totn_gvn_opp, totn_vk_opp, totn_gvn_bodem, totn_vk_bodem],
    [no3_gvn_opp, no3_vk_opp, no3_gvn_bodem, no3_vk_bodem],
    [nh4_gvn_opp, nh4_vk_opp, nh4_gvn_bodem, nh4_vk_bodem],
]
y_max = [2.4, 2.4, 0.6]
y_step = [0.2, 0.2, 0.1]

line_styles = [
    dict(color="black", linewidth=1.6, linestyle="-", zorder=4),
    dict(color="#383838", linewidth=1.0, linestyle=(0, (1, 1)), zorder=2),
    dict(color="#ff0000", linewidth=1.6, linestyle="-", zorder=5),
    dict(color="#ff4a4a", linewidth=1.0, linestyle=(0, (1, 1)), zorder=3),
]


def to_frame(pairs):
    arr = np.asarray(pairs, dtype=float)
    return pd.DataFrame({
        "datum": START + pd.to_timedelta(arr[:, 0], unit="D"),
        "waarde": arr[:, 1],
    })


W, H = 989, 1281
fig = plt.figure(figsize=(W / 100, H / 100), dpi=100)

# axes boxes in pixels: (left, top, right, bottom)
boxes = [(84.3, 59, 966, 396.7), (84.3, 480, 966, 816.7), (84.3, 896.7, 966, 1234)]
# legend boxes in pixels: (left, top, right, bottom)
leg_boxes = [(212, 20, 990, 49), (195, 437, 972, 467), (195, 857, 972, 887)]

spine_col = "#7a7a7a"
for i, (l, t, r, b) in enumerate(boxes):
    ax = fig.add_axes([l / W, 1 - b / H, (r - l) / W, (b - t) / H])
    for j, pairs in enumerate(panel_data[i]):
        sns.lineplot(data=to_frame(pairs), x="datum", y="waarde", ax=ax,
                     estimator=None, label=series_labels[j], **line_styles[j])
    handles, labels = ax.get_legend_handles_labels()
    if ax.get_legend() is not None:
        ax.get_legend().remove()

    ax.set_xlim(START, START + pd.Timedelta(days=288))
    ax.xaxis.set_major_locator(mdates.MonthLocator())
    ax.xaxis.set_major_formatter(mdates.DateFormatter("%d/%m/%y"))
    ax.set_ylim(0, y_max[i])
    ax.set_yticks(np.round(np.arange(0, y_max[i] + 1e-9, y_step[i]), 3))
    ax.yaxis.set_major_formatter(FormatStrFormatter("%.3f"))
    ax.tick_params(direction="in", length=6, width=1.0, color=spine_col,
                   top=True, right=True, labelsize=10.5, labelcolor="black")
    ax.tick_params(axis="y", pad=4)
    ax.tick_params(axis="x", pad=6.5)
    for sp in ax.spines.values():
        sp.set_color(spine_col)
        sp.set_linewidth(1.2)
    ax.set_ylabel(panel_titles[i], fontsize=10.5, labelpad=6)
    ax.set_xlabel("tijd" if i == 2 else "", fontsize=10.5, labelpad=4)
    ax.grid(False)

    ll, lt, lr, lb = leg_boxes[i]
    leg = fig.legend(handles, labels, loc="center", ncol=4, mode="expand",
                     bbox_to_anchor=(ll / W, 1 - lb / H, (lr - ll) / W, (lb - lt) / H),
                     fontsize=10.5, handlelength=3.9, handletextpad=0.5,
                     columnspacing=0.8, borderpad=0.45, borderaxespad=0,
                     fancybox=False, framealpha=1, edgecolor=spine_col)
    leg.get_frame().set_linewidth(1.2)

# outer frame of the page
fig.add_artist(Rectangle((11 / W, -0.05), 1.2, 1.05 - 5 / H,
                         transform=fig.transFigure, fill=False,
                         edgecolor="black", linewidth=1.5))

fig.savefig("out.png", dpi=100)
